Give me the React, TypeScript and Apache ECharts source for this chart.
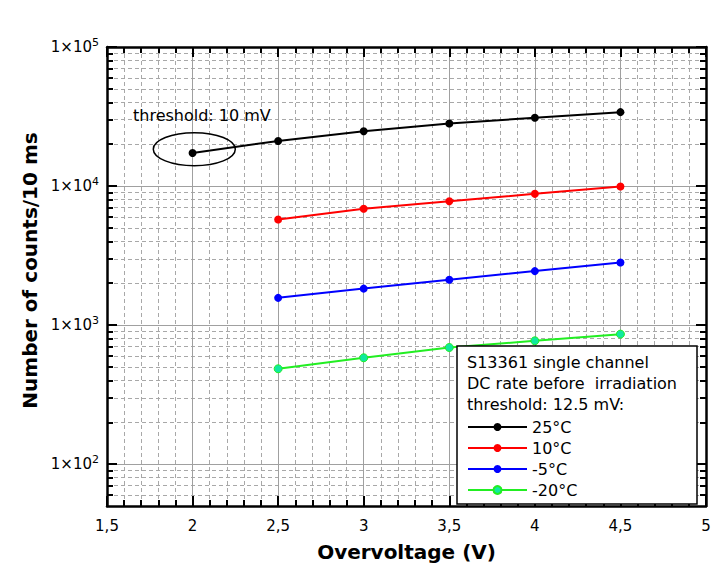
import React, { useEffect, useRef } from "react";
import * as echarts from "echarts";

const FONT = "DejaVu Sans";

const seriesNames = ["25°C", "10°C", "-5°C", "-20°C"];
const voltage25 = [2, 2.5, 3, 3.5, 4, 4.5];
const rate25 = [17300, 21100, 24800, 28200, 31000, 34000];
const voltageLow = [2.5, 3, 3.5, 4, 4.5];
const rate10 = [5750, 6860, 7780, 8790, 9920];
const rateM5 = [1570, 1830, 2120, 2445, 2820];
const rateM20 = [485, 582, 690, 771, 861];

const yMajorTicks = [100, 1000, 10000, 100000];
const yMinorTicks = [
  60, 70, 80, 90,
  200, 300, 400, 500, 600, 700, 800, 900,
  2000, 3000, 4000, 5000, 6000, 7000, 8000, 9000,
  20000, 30000, 40000, 50000, 60000, 70000, 80000, 90000,
];
const headerLines = ["S13361 single channel", "DC rate before  irradiation", "threshold: 12.5 mV:"];
const annotationText = "threshold: 10 mV";

export default function App() {
  const ref = useRef<HTMLDivElement>(null);
  useEffect(() => {
    if (!ref.current) return;
    const chart = echarts.init(ref.current, undefined, { renderer: "svg" });
    const pair = (xs: number[], ys: number[]) => xs.map((x, i) => [x, ys[i]]);

    const axisLineStyle = { color: "#000", width: 2.5 };
    const tickStyle = { color: "#000", width: 2 };

    const yBase = {
      type: "log" as const,
      logBase: 10,
      min: 50,
      max: 100000,
    };

    const mkSeries = (name: string, data: number[][], color: string, fill?: string) => ({
      type: "line",
      name,
      data,
      xAxisIndex: 0,
      yAxisIndex: 0,
      symbol: "circle",
      symbolSize: 8,
      showSymbol: true,
      lineStyle: { color, width: 2 },
      itemStyle: fill ? { color: fill, borderColor: color, borderWidth: 1 } : { color },
      z: 5,
    });

    const option: any = {
      animation: false,
      textStyle: { fontFamily: FONT },
      grid: { left: 107, top: 47, right: 11, bottom: 69, containLabel: false },
      xAxis: [
        {
          type: "value",
          min: 1.5,
          max: 5,
          interval: 0.5,
          position: "bottom",
          axisLine: { show: true, onZero: false, lineStyle: axisLineStyle },
          axisTick: { show: true, inside: true, length: 10, lineStyle: tickStyle },
          minorTick: { show: true, splitNumber: 5, length: 6, lineStyle: tickStyle },
          splitLine: { show: true, lineStyle: { color: "#a0a0a0", width: 1 } },
          minorSplitLine: { show: true, lineStyle: { color: "#a8a8a8", width: 1, type: [4, 3] } },
          axisLabel: {
            formatter: (v: number) => String(v).replace(".", ","),
            fontSize: 15,
            color: "#000",
            margin: 12,
            fontFamily: FONT,
          },
          name: "Overvoltage (V)",
          nameLocation: "middle",
          nameGap: 36,
          nameTextStyle: { fontSize: 20, fontWeight: "bold", color: "#000", fontFamily: FONT },
          z: 3,
        },
        {
          type: "value",
          min: 1.5,
          max: 5,
          interval: 0.5,
          position: "top",
          axisLine: { show: true, onZero: false, lineStyle: axisLineStyle },
          axisTick: { show: true, inside: true, length: 10, lineStyle: tickStyle },
          minorTick: { show: true, splitNumber: 5, length: 6, lineStyle: tickStyle },
          splitLine: { show: false },
          axisLabel: { show: false },
          z: 3,
        },
      ],
      yAxis: [
        {
          ...yBase,
          position: "left",
          axisLine: { show: true, onZero: false, lineStyle: axisLineStyle },
          axisTick: { show: true, inside: true, length: 10, lineStyle: tickStyle, customValues: yMajorTicks },
          splitLine: { show: true, lineStyle: { color: "#a0a0a0", width: 1 } },
          axisLabel: {
            customValues: yMajorTicks,
            formatter: (v: number) => `{b|1×10}{s|${Math.round(Math.log10(v))}}`,
            margin: 8,
            rich: {
              b: { fontSize: 15, color: "#000", fontFamily: FONT, lineHeight: 20 },
              s: { fontSize: 11, color: "#000", fontFamily: FONT, verticalAlign: "top", lineHeight: 12 },
            },
          },
          name: "Number of counts/10 ms",
          nameLocation: "middle",
          nameGap: 62,
          nameTextStyle: { fontSize: 20, fontWeight: "bold", color: "#000", fontFamily: FONT, padding: [0, 0, 0, 12] },
          z: 3,
        },
        {
          ...yBase,
          position: "left",
          axisLine: { show: false },
          axisTick: { show: true, inside: true, length: 6, lineStyle: tickStyle, customValues: yMinorTicks },
          splitLine: { show: true, lineStyle: { color: "#a8a8a8", width: 1, type: [4, 3] } },
          axisLabel: { show: false },
          z: 3,
        },
        {
          ...yBase,
          position: "right",
          axisLine: { show: true, onZero: false, lineStyle: axisLineStyle },
          axisTick: { show: true, inside: true, length: 10, lineStyle: tickStyle, customValues: yMajorTicks },
          splitLine: { show: false },
          axisLabel: { show: false },
          z: 3,
        },
        {
          ...yBase,
          position: "right",
          axisLine: { show: false },
          axisTick: { show: true, inside: true, length: 6, lineStyle: tickStyle, customValues: yMinorTicks },
          splitLine: { show: false },
          axisLabel: { show: false },
          z: 3,
        },
      ],
      legend: {
        orient: "vertical",
        left: 467,
        top: 419,
        itemWidth: 59,
        itemHeight: 10,
        itemGap: 5,
        padding: 0,
        data: seriesNames,
        textStyle: { fontSize: 16, color: "#000", fontFamily: FONT, lineHeight: 16, padding: [0, 0, 0, 0] },
        z: 12,
      },
      graphic: [
        {
          type: "rect",
          shape: { x: 457, y: 346, width: 240, height: 158 },
          style: { fill: "#fff", stroke: "#000", lineWidth: 1.5 },
          z: 10,
        },
        ...headerLines.map((t, i) => ({
          type: "text",
          x: 467,
          y: 362 + i * 21,
          style: { text: t, fontSize: 16, fontFamily: FONT, fill: "#000", textVerticalAlign: "middle" },
          z: 11,
        })),
        {
          type: "text",
          x: 133,
          y: 115,
          style: { text: annotationText, fontSize: 16, fontFamily: FONT, fill: "#000", textVerticalAlign: "middle" },
          z: 11,
        },
        {
          type: "ellipse",
          shape: { cx: 194.3, cy: 149.2, rx: 41, ry: 16.5 },
          style: { fill: "none", stroke: "#000", lineWidth: 1.5 },
          z: 11,
        },
      ],
      series: [
        mkSeries(seriesNames[0], pair(voltage25, rate25), "#000000"),
        mkSeries(seriesNames[1], pair(voltageLow, rate10), "#ff0000"),
        mkSeries(seriesNames[2], pair(voltageLow, rateM5), "#0000ff"),
        mkSeries(seriesNames[3], pair(voltageLow, rateM20), "#22ee22", "#10e8a0"),
      ],
    };
    chart.setOption(option);
    return () => chart.dispose();
  }, []);
  return (
    <div
      ref={ref}
      style={{ position: "absolute", left: 0, top: 0, width: 717, height: 575, background: "#fff" }}
    />
  );
}
